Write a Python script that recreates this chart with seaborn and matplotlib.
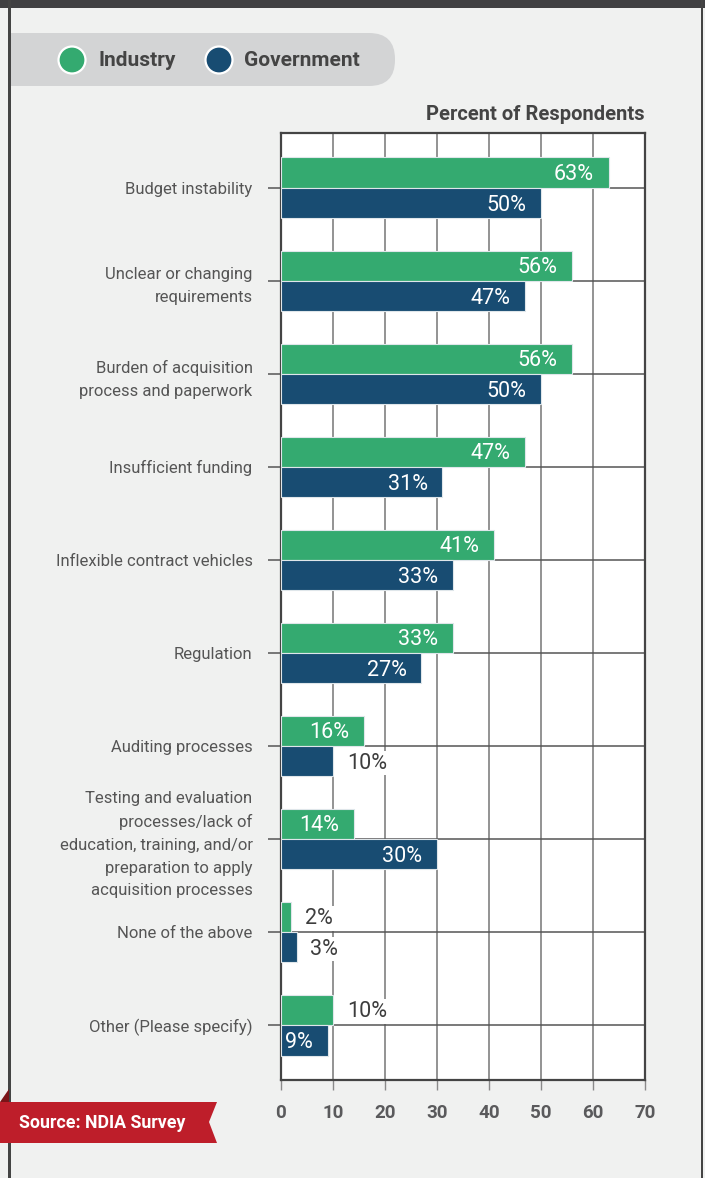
import matplotlib
matplotlib.use("Agg")
import matplotlib.pyplot as plt
from matplotlib.patches import FancyBboxPatch, Polygon, Rectangle, Circle
import seaborn as sns
import pandas as pd

# ---- data -------------------------------------------------------------
categories = [
    "Budget instability",
    "Unclear or changing\nrequirements",
    "Burden of acquisition\nprocess and paperwork",
    "Insufficient funding",
    "Inflexible contract vehicles",
    "Regulation",
    "Auditing processes",
    "Testing and evaluation\nprocesses/lack of\neducation, training, and/or\npreparation to apply\nacquisition processes",
    "None of the above",
    "Other (Please specify)",
]
industry = [63, 56, 56, 47, 41, 33, 16, 14, 2, 10]
government = [50, 47, 50, 31, 33, 27, 10, 30, 3, 9]
groups = ["Industry", "Government"]
x_ticks = [0, 10, 20, 30, 40, 50, 60, 70]
# bars whose value label sits outside the bar end
outside_labels = {("Industry", 8), ("Industry", 9), ("Government", 6), ("Government", 8)}

GREEN = "#34aa70"
NAVY = "#184c72"
BG = "#f0f1f0"
DARK = "#424244"
TEXT = "#555555"

df = pd.DataFrame({
    "category": categories * 2,
    "pct": industry + government,
    "group": [groups[0]] * len(categories) + [groups[1]] * len(categories),
})

sns.set_theme(style="white")
plt.rcParams["font.family"] = ["Roboto", "DejaVu Sans"]

W, H = 705, 1178
fig = plt.figure(figsize=(W / 100, H / 100), dpi=100, facecolor=BG)


def px_axes(left, top, right, bottom):
    return fig.add_axes([left / W, 1 - bottom / H, (right - left) / W, (bottom - top) / H])


# ---- chart ------------------------------------------------------------
ax = px_axes(281, 133, 645, 1080)
ax.set_facecolor("white")
sns.barplot(data=df, y="category", x="pct", hue="group", orient="h",
            palette=[GREEN, NAVY], saturation=1, width=0.66, dodge=True, gap=0.02,
            edgecolor="#dfe6ea", linewidth=0.8, legend=False, ax=ax, zorder=3)

ax.set_xlim(0, 70)
ax.set_ylim(len(categories) - 0.41, -0.59)
ax.set_xticks(x_ticks)
ax.set_xticklabels([str(t) for t in x_ticks], fontsize=13.5, fontweight="bold",
                   color="#5a5a5c")
ax.set_yticks(range(len(categories)))
ax.set_yticklabels(categories, fontsize=12, color=TEXT, linespacing=1.65)
ax.set_xlabel("")
ax.set_ylabel("")

ax.grid(False)
for t in x_ticks[1:-1]:
    ax.axvline(t, color="#8a8a8a", lw=1.3, zorder=1)
for i in range(len(categories)):
    ax.axhline(i, color="#555555", lw=1.1, zorder=1)

ax.tick_params(axis="x", length=7.5, width=1.0, color="#8a8a8a", pad=10, bottom=True)
ax.tick_params(axis="y", length=9.5, width=1.1, color="#555555", pad=11, left=True)
for side in ["left", "right", "top", "bottom"]:
    ax.spines[side].set_visible(True)
    ax.spines[side].set_color("#444444")
    ax.spines[side].set_linewidth(1.6)

# value labels
for g, container in zip(groups, ax.containers):
    for i, bar in enumerate(container):
        v = bar.get_width()
        yc = bar.get_y() + bar.get_height() / 2
        if (g, i) in outside_labels:
            ax.annotate(f"{int(v)}%", xy=(v, yc), xytext=(10, -1.3), textcoords="offset points",
                        ha="left", va="center", fontsize=15.5, color="#3d3d3d", zorder=5,
                        bbox=dict(boxstyle="square,pad=0.08", fc="white", ec="none"))
        else:
            ax.annotate(f"{int(v)}%", xy=(v, yc), xytext=(-10.5, -1.3), textcoords="offset points",
                        ha="right", va="center", fontsize=15.5, color="white", zorder=5)

fig.text(645 / W, 1 - 114 / H, "Percent of Respondents", ha="right", va="center",
         fontsize=14.5, fontweight="bold", color="#444444")

# ---- frame, legend and source banner ---------------------------------
ov = fig.add_axes([0, 0, 1, 1], zorder=10)
ov.set_xlim(0, W)
ov.set_ylim(H, 0)
ov.axis("off")
ov.patch.set_alpha(0)

ov.add_patch(FancyBboxPatch((-40, 33), 435, 53, boxstyle="round,pad=0,rounding_size=26",
                            fc="#d3d4d5", ec="none"))
ov.add_patch(Rectangle((0, 8), 8, H, color=BG, lw=0))
ov.add_patch(Rectangle((0, 0), W, 8, color="#404042", lw=0))
ov.add_patch(Rectangle((8, 0), 2.5, H, color="#444444", lw=0))
ov.add_patch(Rectangle((700.5, 0), 2.5, H, color="#444444", lw=0))

for cx, col, label, tx in [(72, GREEN, "Industry", 98), (219, NAVY, "Government", 244)]:
    ov.add_patch(Circle((cx, 60), 13.5, fc=col, ec="white", lw=1.6))
    ov.text(tx, 60, label, ha="left", va="center", fontsize=15, fontweight="bold",
            color="#444444")

ov.add_patch(Polygon([(0, 1102), (9, 1102), (9, 1089)], closed=True, fc="#7a1418", ec="none"))
ov.add_patch(Polygon([(0, 1102), (217, 1102), (209, 1122), (217, 1143), (0, 1143)],
                     closed=True, fc="#be1e2a", ec="none"))
ov.text(19, 1123, "Source: NDIA Survey", ha="left", va="center", fontsize=12.8,
        fontweight="bold", color="white")

fig.savefig("out.png", dpi=100, facecolor=BG)
